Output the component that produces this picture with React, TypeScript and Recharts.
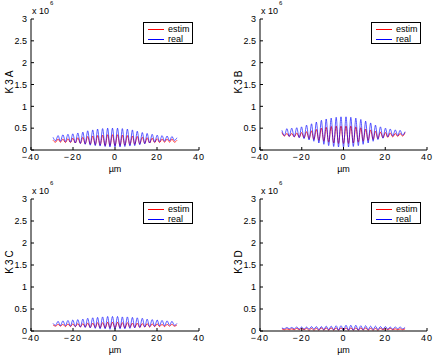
import React from 'react';
import { LineChart, Line, XAxis, YAxis } from 'recharts';

// sample positions (µm), alternating peak / trough
const xs = [
  -29.5, -28.3, -27.1, -26.0, -24.8, -23.6, -22.4, -21.2, -20.1, -18.9, -17.7, -16.5, -15.3,
  -14.2, -13.0, -11.8, -10.6, -9.4, -8.3, -7.1, -5.9, -4.7, -3.5, -2.4, -1.2, 0,
  1.2, 2.4, 3.5, 4.7, 5.9, 7.1, 8.3, 9.4, 10.6, 11.8, 13.0, 14.2, 15.3, 16.5, 17.7,
  18.9, 20.1, 21.2, 22.4, 23.6, 24.8, 26.0, 27.1, 28.3, 29.5,
];

const xTicks = [-40, -20, 0, 20, 40];
const yTicks = [0, 0.5, 1, 1.5, 2, 2.5, 3];

// values in units of 10^6
const aRealPeaks = [0.29, 0.33, 0.35, 0.36, 0.37, 0.39, 0.41, 0.44, 0.46, 0.48, 0.49, 0.5, 0.5, 0.5, 0.49, 0.48, 0.46, 0.43, 0.4, 0.38, 0.36, 0.34, 0.33, 0.32, 0.31, 0.28];
const aRealTroughs = [0.21, 0.2, 0.19, 0.18, 0.16, 0.15, 0.13, 0.11, 0.1, 0.09, 0.08, 0.07, 0.07, 0.07, 0.08, 0.09, 0.1, 0.12, 0.14, 0.16, 0.18, 0.19, 0.2, 0.21, 0.22];
const aEstimPeaks = [0.22, 0.25, 0.25, 0.26, 0.27, 0.28, 0.29, 0.31, 0.32, 0.33, 0.34, 0.35, 0.35, 0.35, 0.34, 0.33, 0.32, 0.31, 0.29, 0.28, 0.27, 0.26, 0.25, 0.25, 0.25, 0.22];
const aEstimTroughs = [0.18, 0.18, 0.17, 0.17, 0.16, 0.15, 0.14, 0.13, 0.12, 0.11, 0.1, 0.1, 0.1, 0.1, 0.11, 0.12, 0.13, 0.14, 0.15, 0.16, 0.17, 0.17, 0.18, 0.18, 0.18];

const bRealPeaks = [0.45, 0.49, 0.5, 0.51, 0.53, 0.57, 0.6, 0.64, 0.68, 0.71, 0.73, 0.75, 0.76, 0.76, 0.75, 0.73, 0.7, 0.66, 0.62, 0.57, 0.53, 0.5, 0.48, 0.46, 0.45, 0.42];
const bRealTroughs = [0.33, 0.31, 0.3, 0.28, 0.26, 0.23, 0.2, 0.16, 0.13, 0.1, 0.08, 0.07, 0.07, 0.07, 0.08, 0.1, 0.13, 0.16, 0.2, 0.24, 0.27, 0.3, 0.32, 0.33, 0.34];
const bEstimPeaks = [0.4, 0.38, 0.38, 0.39, 0.4, 0.42, 0.44, 0.47, 0.5, 0.52, 0.54, 0.55, 0.55, 0.55, 0.55, 0.53, 0.51, 0.48, 0.46, 0.43, 0.41, 0.4, 0.39, 0.38, 0.38, 0.4];
const bEstimTroughs = [0.32, 0.31, 0.3, 0.29, 0.28, 0.26, 0.24, 0.22, 0.2, 0.18, 0.16, 0.15, 0.15, 0.15, 0.16, 0.18, 0.2, 0.22, 0.24, 0.26, 0.28, 0.29, 0.3, 0.31, 0.32];

const cRealPeaks = [0.17, 0.22, 0.23, 0.24, 0.25, 0.26, 0.27, 0.29, 0.3, 0.31, 0.32, 0.33, 0.33, 0.33, 0.32, 0.32, 0.31, 0.3, 0.29, 0.27, 0.26, 0.25, 0.24, 0.23, 0.22, 0.17];
const cRealTroughs = [0.13, 0.12, 0.12, 0.11, 0.1, 0.09, 0.08, 0.07, 0.06, 0.05, 0.05, 0.04, 0.04, 0.05, 0.05, 0.06, 0.07, 0.08, 0.09, 0.1, 0.11, 0.12, 0.12, 0.13, 0.13];
const cEstimPeaks = [0.14, 0.15, 0.15, 0.16, 0.16, 0.17, 0.17, 0.18, 0.18, 0.19, 0.19, 0.2, 0.2, 0.2, 0.19, 0.19, 0.18, 0.18, 0.17, 0.17, 0.16, 0.16, 0.15, 0.15, 0.15, 0.14];
const cEstimTroughs = [0.11, 0.11, 0.1, 0.1, 0.1, 0.09, 0.09, 0.08, 0.08, 0.07, 0.07, 0.07, 0.07, 0.07, 0.07, 0.08, 0.08, 0.08, 0.09, 0.09, 0.1, 0.1, 0.1, 0.11, 0.11];

const dRealPeaks = [0.07, 0.08, 0.08, 0.09, 0.09, 0.09, 0.1, 0.1, 0.1, 0.11, 0.11, 0.12, 0.12, 0.13, 0.13, 0.13, 0.12, 0.12, 0.11, 0.11, 0.1, 0.1, 0.09, 0.09, 0.09, 0.08];
const dRealTroughs = [0.05, 0.05, 0.05, 0.04, 0.04, 0.04, 0.04, 0.03, 0.03, 0.03, 0.03, 0.02, 0.02, 0.02, 0.02, 0.02, 0.03, 0.03, 0.03, 0.03, 0.04, 0.04, 0.04, 0.05, 0.05];
const dEstimPeaks = [0.05, 0.05, 0.05, 0.06, 0.06, 0.06, 0.06, 0.06, 0.07, 0.07, 0.07, 0.07, 0.07, 0.07, 0.07, 0.07, 0.07, 0.07, 0.06, 0.06, 0.06, 0.06, 0.06, 0.05, 0.05, 0.05];
const dEstimTroughs = [0.03, 0.03, 0.03, 0.03, 0.03, 0.02, 0.02, 0.02, 0.02, 0.02, 0.02, 0.02, 0.02, 0.02, 0.02, 0.02, 0.02, 0.02, 0.02, 0.02, 0.03, 0.03, 0.03, 0.03, 0.03];

const interleave = (peaks: number[], troughs: number[]) => {
  const out: number[] = [];
  peaks.forEach((p, i) => {
    out.push(p);
    if (i < troughs.length) out.push(troughs[i]);
  });
  return out;
};

const buildRows = (estimP: number[], estimT: number[], realP: number[], realT: number[]) => {
  const estim = interleave(estimP, estimT);
  const real = interleave(realP, realT);
  return xs.map((x, i) => ({ x, estim: estim[i], real: real[i] }));
};

const FONT = '"Liberation Sans", Arial, Helvetica, sans-serif';
const yTickStyle = { fontSize: 9, fill: '#000', fontFamily: FONT };
const xTickStyle = { fontSize: 9, fill: '#000', fontFamily: FONT, letterSpacing: 1 };
const fmt = (v: number) => (v < 0 ? '\u2212' + Math.abs(v) : String(v));

interface PanelProps {
  name: string;
  rows: { x: number; estim: number; real: number }[];
  left: number;
  top: number;
  width: number;
  height: number;
  plot: { l: number; t: number; r: number; b: number }; // plot box inside panel
}

const Panel = ({ name, rows, left, top, width, height, plot }: PanelProps) => {
  const yW = 25;
  const xH = 20;
  const margin = {
    top: plot.t,
    right: width - plot.r,
    bottom: height - plot.b - xH,
    left: plot.l - yW,
  };
  const midY = (plot.t + plot.b) / 2;
  const midX = (plot.l + plot.r) / 2;
  return (
    <div style={{ position: 'absolute', left, top, width, height }}>
      <LineChart width={width} height={height} data={rows} margin={margin} style={{ overflow: 'visible' }}>
        <XAxis dataKey="x" type="number" domain={[-40, 40]} ticks={xTicks} tickFormatter={fmt}
          height={xH} tickSize={-3} tickMargin={7} tick={xTickStyle} stroke="#000" interval={0} />
        <XAxis xAxisId="top" dataKey="x" type="number" domain={[-40, 40]} ticks={xTicks}
          orientation="top" height={0} tickSize={-3} tick={false} stroke="#000" />
        <YAxis type="number" domain={[0, 3]} ticks={yTicks} width={yW} tickSize={-3} tickMargin={7}
          tick={yTickStyle} stroke="#000" interval={0} />
        <YAxis yAxisId="right" type="number" domain={[0, 3]} ticks={yTicks} orientation="right"
          width={0} tickSize={-3} tick={false} stroke="#000" />
        <Line dataKey="estim" type="monotone" stroke="#ff0000" strokeWidth={0.8} dot={false} isAnimationActive={false} />
        <Line dataKey="real" type="monotone" stroke="#0000ff" strokeWidth={0.8} strokeOpacity={0.8} dot={false} isAnimationActive={false} />
      </LineChart>
      <div style={{ position: 'absolute', left: plot.l + 1, top: plot.t - 13, fontSize: 9, lineHeight: '10px', fontFamily: FONT, whiteSpace: 'nowrap' }}>
        x 10
        <span style={{ position: 'absolute', left: 18, top: -6, fontSize: 6, lineHeight: '7px' }}>6</span>
      </div>
      <div style={{ position: 'absolute', left: plot.l - 21 - 20, top: midY - 10, width: 40, textAlign: 'center',
        transform: 'rotate(-90deg)', fontSize: 10, letterSpacing: 2, lineHeight: '12px', fontFamily: FONT }}>
        {name}
      </div>
      <div style={{ position: 'absolute', left: midX - 20, top: plot.b + 14, width: 40, textAlign: 'center', fontSize: 9, fontFamily: FONT }}>
        µm
      </div>
      <div style={{ position: 'absolute', left: plot.r - 56, top: plot.t + 3, width: 50, height: 22, boxSizing: 'border-box',
        border: '1px solid #000', background: '#fff', fontSize: 9, fontFamily: FONT }}>
        <svg style={{ position: 'absolute', left: 0, top: 0 }} width={24} height={20}>
          <line x1={4} x2={20} y1={6.5} y2={6.5} stroke="#ff0000" strokeWidth={1} />
          <line x1={4} x2={20} y1={16.5} y2={16.5} stroke="#0000ff" strokeWidth={1} />
        </svg>
        <div style={{ position: 'absolute', left: 24, top: 1, lineHeight: '11px' }}>estim</div>
        <div style={{ position: 'absolute', left: 24, top: 11, lineHeight: '11px' }}>real</div>
      </div>
    </div>
  );
};

export default function App() {
  return (
    <div style={{ position: 'absolute', left: 0, top: 0, width: 436, height: 357, background: '#fff' }}>
      <Panel name="K3A" rows={buildRows(aEstimPeaks, aEstimTroughs, aRealPeaks, aRealTroughs)}
        left={0} top={0} width={218} height={178} plot={{ l: 31, t: 19, r: 199, b: 150 }} />
      <Panel name="K3B" rows={buildRows(bEstimPeaks, bEstimTroughs, bRealPeaks, bRealTroughs)}
        left={218} top={0} width={218} height={178} plot={{ l: 42, t: 19, r: 209, b: 150 }} />
      <Panel name="K3C" rows={buildRows(cEstimPeaks, cEstimTroughs, cRealPeaks, cRealTroughs)}
        left={0} top={178} width={218} height={179} plot={{ l: 31, t: 21, r: 199, b: 153 }} />
      <Panel name="K3D" rows={buildRows(dEstimPeaks, dEstimTroughs, dRealPeaks, dRealTroughs)}
        left={218} top={178} width={218} height={179} plot={{ l: 42, t: 21, r: 209, b: 153 }} />
    </div>
  );
}
